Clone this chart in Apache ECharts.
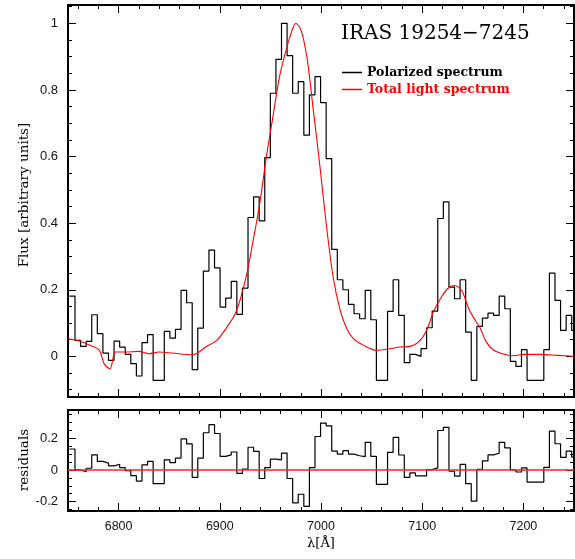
<!DOCTYPE html>
<html>
<head>
<meta charset="utf-8">
<title>IRAS 19254-7245</title>
<script src="https://cdn.jsdelivr.net/npm/echarts@6/dist/echarts.min.js"></script>
<style>
  html, body { margin: 0; padding: 0; background: #fff; }
  #chart { width: 575px; height: 559px; }
</style>
</head>
<body>
<div id="chart"></div>
<script>
// --- data ---

// histogram bins of the polarized spectrum (start wavelength, width in Å)
const binStart = 6751.4
const binWidth = 5.515

// polarized flux, one value per bin
const polarized = [
  0.181, 0.048, 0.030, 0.045, 0.125, 0.068, 0.010, -0.012, 0.046, 0.028,
  0.006, -0.022, -0.059, 0.041, 0.065, -0.072, -0.072, 0.075, 0.055, 0.081,
  0.198, 0.161, -0.040, 0.085, 0.256, 0.319, 0.266, 0.148, 0.175, 0.225,
  0.126, 0.205, 0.417, 0.479, 0.407, 0.597, 0.790, 0.892, 1.000, 0.903,
  0.790, 0.825, 0.664, 0.785, 0.840, 0.762, 0.594, 0.321, 0.230, 0.200,
  0.156, 0.128, 0.113, 0.198, 0.110, -0.072, -0.072, 0.135, 0.230, 0.123,
  -0.019, 0.006, 0.000, 0.023, 0.086, 0.136, 0.414, 0.464, 0.208, 0.173,
  0.230, 0.073, -0.072, 0.090, 0.115, 0.130, 0.123, 0.181, 0.143, -0.015,
  -0.030, 0.020, -0.072, -0.072, -0.072, 0.020, 0.250, 0.168, 0.078, 0.123,
  0.078,
]

// residuals, same bins
const residuals = [
  0.133, 0.000, -0.011, 0.011, 0.096, 0.054, 0.043, 0.026, 0.036, 0.015,
  -0.004, -0.036, -0.071, 0.032, 0.054, -0.086, -0.086, 0.064, 0.047, 0.075,
  0.197, 0.165, -0.047, 0.075, 0.236, 0.287, 0.231, 0.086, 0.096, 0.114,
  -0.021, 0.006, 0.144, 0.118, -0.054, 0.015, 0.069, 0.064, 0.107, -0.054,
  -0.208, -0.154, -0.231, 0.015, 0.212, 0.297, 0.280, 0.120, 0.100, 0.122,
  0.100, 0.090, 0.084, 0.175, 0.086, -0.091, -0.091, 0.112, 0.206, 0.095,
  -0.047, -0.019, -0.038, -0.038, 0.002, 0.013, 0.250, 0.270, -0.008, -0.039,
  0.036, -0.087, -0.198, 0.004, 0.057, 0.096, 0.106, 0.175, 0.140, 0.000,
  -0.013, 0.013, -0.077, -0.077, -0.077, 0.016, 0.246, 0.166, 0.080, 0.119,
  0.081,
]

// total light spectrum (wavelength, flux)
const totalLambda = [
  6750, 6761, 6772, 6781, 6786, 6791.5, 6797, 6807, 6820, 6830,
  6840, 6853, 6873, 6878, 6886, 6897, 6906, 6916, 6926, 6933,
  6939.5, 6946, 6953, 6959, 6966, 6971, 6975, 6980, 6986, 6992,
  6999, 7005.5, 7012, 7019, 7025.5, 7032, 7042, 7055, 7068, 7078,
  7088, 7098, 7105, 7111, 7118, 7125, 7132, 7139, 7146, 7152,
  7157, 7163, 7170, 7179, 7190, 7201, 7217, 7234, 7250,
]
const totalFlux = [
  0.053, 0.046, 0.033, 0.018, -0.024, -0.037, 0.013, 0.013, 0.015, 0.008,
  0.013, 0.010, 0.005, 0.010, 0.028, 0.048, 0.083, 0.133, 0.238, 0.349,
  0.459, 0.599, 0.729, 0.840, 0.925, 0.975, 1.000, 0.982, 0.900, 0.750,
  0.569, 0.389, 0.238, 0.138, 0.083, 0.053, 0.033, 0.018, 0.023, 0.028,
  0.030, 0.048, 0.083, 0.133, 0.173, 0.203, 0.213, 0.198, 0.143, 0.110,
  0.087, 0.045, 0.020, 0.008, 0.002, 0.006, 0.006, 0.003, 0.000,
]

// tick positions
const xMajor = [6800, 6900, 7000, 7100, 7200]
const xMinor = [
  6760, 6780, 6820, 6840, 6860, 6880, 6920, 6940, 6960, 6980, 7020, 7040,
  7060, 7080, 7120, 7140, 7160, 7180, 7220, 7240,
]
const fluxMajor = [0, 0.2, 0.4, 0.6, 0.8, 1]
const fluxMinor = [
  -0.1, -0.05, 0.05, 0.1, 0.15, 0.25, 0.3, 0.35, 0.45, 0.5, 0.55, 0.65,
  0.7, 0.75, 0.85, 0.9, 0.95, 1.05,
]
const resMajor = [-0.2, 0, 0.2]
const resMinor = [-0.25, -0.15, -0.1, -0.05, 0.05, 0.1, 0.15, 0.25, 0.3, 0.35]

// --- build series data ---

// step line: one point per bin edge, last value repeated to close the bin
const toSteps = (values) =>
  values
    .map((v, i) => [binStart + i * binWidth, v])
    .concat([[binStart + values.length * binWidth, values[values.length - 1]]])

const totalData = totalLambda.map((l, i) => [l, totalFlux[i]])

// --- axes ---

const tickFont = { fontFamily: 'Liberation Sans', fontSize: 13, color: '#111' }
const frameLine = { show: true, onZero: false, lineStyle: { color: '#000', width: 2 } }

// labels: real ones only where asked, empty strings elsewhere (keeps ticks alive)
const labelsOf = (values, show, extra) => ({
  show: true,
  customValues: values,
  formatter: show ? (v) => String(v) : () => '',
  ...tickFont,
  ...extra,
})

// one x axis: ticks pointing inside, optional labels
const xAxisOf = (grid, position, ticks, len, labels) => ({
  type: 'value',
  gridIndex: grid,
  position: position,
  min: 6750,
  max: 7250,
  axisLine: frameLine,
  axisTick: { show: true, inside: true, length: len, customValues: ticks, lineStyle: { color: '#000', width: 1 } },
  axisLabel: labelsOf(ticks, labels, { margin: 9, fontSize: 12.5 }),
  splitLine: { show: false },
})

const yAxisOf = (grid, position, min, max, ticks, len, labels) => ({
  type: 'value',
  gridIndex: grid,
  position: position,
  min: min,
  max: max,
  axisLine: frameLine,
  axisTick: { show: true, inside: true, length: len, customValues: ticks, lineStyle: { color: '#000', width: 1 } },
  axisLabel: labelsOf(ticks, labels, { margin: 10 }),
  splitLine: { show: false },
})

const xAxes = [
  // upper panel: 0-3
  xAxisOf(0, 'bottom', xMajor, 8, false),
  xAxisOf(0, 'bottom', xMinor, 4, false),
  xAxisOf(0, 'top', xMajor, 8, false),
  xAxisOf(0, 'top', xMinor, 4, false),
  // residual panel: 4-7
  xAxisOf(1, 'bottom', xMajor, 8, true),
  xAxisOf(1, 'bottom', xMinor, 4, false),
  xAxisOf(1, 'top', xMajor, 8, false),
  xAxisOf(1, 'top', xMinor, 4, false),
]

const yAxes = [
  yAxisOf(0, 'left', -0.122, 1.055, fluxMajor, 8, true),
  yAxisOf(0, 'left', -0.122, 1.055, fluxMinor, 4, false),
  yAxisOf(0, 'right', -0.122, 1.055, fluxMajor, 8, false),
  yAxisOf(0, 'right', -0.122, 1.055, fluxMinor, 4, false),
  yAxisOf(1, 'left', -0.26, 0.38, resMajor, 8, true),
  yAxisOf(1, 'left', -0.26, 0.38, resMinor, 4, false),
  yAxisOf(1, 'right', -0.26, 0.38, resMajor, 8, false),
  yAxisOf(1, 'right', -0.26, 0.38, resMinor, 4, false),
]

// empty series so that every tick-only axis is bound to something
const tickHolders = [1, 2, 3, 5, 6, 7].map((i) => ({
  type: 'line',
  xAxisIndex: i,
  yAxisIndex: i,
  data: [],
  silent: true,
}))

const serifText = { fontFamily: 'DejaVu Serif', fill: '#000' }

const option = {
  animation: false,
  backgroundColor: '#fff',
  title: {
    text: 'IRAS 19254\u22127245',
    left: 341,
    top: 24,
    padding: 0,
    textStyle: { fontFamily: 'DejaVu Serif', fontSize: 20, fontWeight: 'normal', color: '#000' },
  },
  legend: {
    orient: 'vertical',
    left: 342,
    top: 66,
    padding: 0,
    icon: 'rect',
    itemWidth: 20,
    itemHeight: 1.5,
    itemGap: 4,
    textStyle: { fontFamily: 'DejaVu Serif', fontSize: 12.5, fontWeight: 'bold', color: '#000', lineHeight: 13 },
    data: [
      { name: 'Polarized spectrum' },
      { name: 'Total light spectrum', textStyle: { color: '#ff0000' } },
    ],
  },
  // fixed plot boxes, no automatic shrinking for labels
  grid: [
    { left: 68, right: 1, top: 5, height: 392, outerBoundsMode: 'none' },
    { left: 68, right: 1, top: 410, height: 101, outerBoundsMode: 'none' },
  ],
  xAxis: xAxes,
  yAxis: yAxes,
  graphic: [
    {
      type: 'text',
      x: 24,
      y: 195,
      rotation: Math.PI / 2,
      style: { ...serifText, text: 'Flux [arbitrary units]', fontSize: 13.5, align: 'center', verticalAlign: 'middle' },
    },
    {
      type: 'text',
      x: 24,
      y: 460,
      rotation: Math.PI / 2,
      style: { ...serifText, text: 'residuals', fontSize: 13.5, align: 'center', verticalAlign: 'middle' },
    },
    {
      type: 'text',
      x: 321,
      y: 544,
      style: { ...serifText, text: '\u03bb[\u00c5]', fontSize: 13, align: 'center', verticalAlign: 'middle' },
    },
  ],
  series: [
    {
      name: 'Polarized spectrum',
      type: 'line',
      xAxisIndex: 0,
      yAxisIndex: 0,
      step: 'end',
      symbol: 'none',
      data: toSteps(polarized),
      lineStyle: { color: '#000', width: 1.2 },
      itemStyle: { color: '#000' },
    },
    {
      name: 'Total light spectrum',
      type: 'line',
      xAxisIndex: 0,
      yAxisIndex: 0,
      smooth: 0.3,
      symbol: 'none',
      data: totalData,
      lineStyle: { color: '#ff0000', width: 1.1 },
      itemStyle: { color: '#ff0000' },
    },
    {
      name: 'Residuals',
      type: 'line',
      xAxisIndex: 4,
      yAxisIndex: 4,
      step: 'end',
      symbol: 'none',
      data: toSteps(residuals),
      lineStyle: { color: '#000', width: 1.2 },
      markLine: {
        silent: true,
        symbol: 'none',
        label: { show: false },
        lineStyle: { color: '#ff2020', width: 1.5, type: 'solid' },
        data: [{ yAxis: 0 }],
      },
    },
    ...tickHolders,
  ],
}

const chart = echarts.init(document.getElementById('chart'))
chart.setOption(option)
</script>
</body>
</html>
